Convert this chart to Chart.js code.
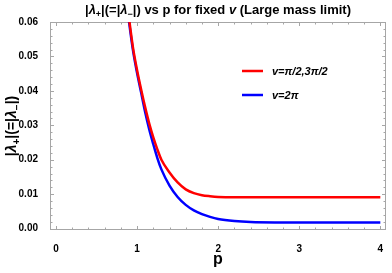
<!DOCTYPE html>
<html>
<head>
<meta charset="utf-8">
<script src="https://cdn.jsdelivr.net/npm/chart.js@4/dist/chart.umd.min.js"></script>
<style>
  html, body { margin: 0; padding: 0; background: #fff; }
</style>
</head>
<body>
<canvas id="chart" width="392" height="273"></canvas>
<script>
// values
const pValues    = [0.88, 0.9, 0.95, 1.0, 1.05, 1.1, 1.15, 1.2, 1.25, 1.3, 1.4, 1.5, 1.6, 1.7, 1.8, 1.9, 2.0, 2.2, 2.4, 2.7, 3.0, 3.5, 4.0];
const redValues  = [0.0650, 0.0612, 0.0525, 0.0460, 0.0404, 0.0352, 0.0305, 0.0265, 0.0230, 0.0200, 0.0163, 0.0134, 0.0114, 0.0103, 0.0097, 0.0094, 0.0092, 0.0091, 0.0091, 0.0091, 0.0091, 0.0091, 0.0091];
const blueValues = [0.0640, 0.0602, 0.0517, 0.0452, 0.0395, 0.0338, 0.0288, 0.0245, 0.0205, 0.0172, 0.0125, 0.0092, 0.0069, 0.0053, 0.0042, 0.0034, 0.0028, 0.0022, 0.0019, 0.0018, 0.0018, 0.0018, 0.0018];
const xTicks = [0, 1, 2, 3, 4];
const yTicks = [0, 0.01, 0.02, 0.03, 0.04, 0.05, 0.06];
const seriesLabels = ['v=π/2,3π/2', 'v=2π'];

const FONT = '"Liberation Sans", Arial, sans-serif';

// draws a run of text pieces, some italic, some lowered as subscripts
function drawRich(ctx, segs, x, y, size) {
  const fontOf = s => (s.i ? 'italic ' : '') + 'bold ' + (s.sub ? Math.round(size * 0.7) : size) + 'px ' + FONT;
  let total = 0;
  segs.forEach(s => { ctx.font = fontOf(s); total += ctx.measureText(s.t).width; });
  let cx = x - total / 2;
  ctx.textAlign = 'left';
  ctx.textBaseline = 'alphabetic';
  segs.forEach(s => {
    ctx.font = fontOf(s);
    ctx.fillText(s.t, cx, y + (s.sub ? size * 0.25 : 0));
    cx += ctx.measureText(s.t).width;
  });
}

const lambdaSegs = [
  {t: '|'}, {t: 'λ', i: true}, {t: '+', sub: true}, {t: '|(=|'},
  {t: 'λ', i: true}, {t: '−', sub: true}, {t: '|)'}
];

const decorations = {
  id: 'decorations',
  beforeDatasetsDraw(chart) {
    const {ctx, chartArea: a, scales: {x, y}} = chart;
    ctx.save();
    ctx.strokeStyle = '#a6a6a6';
    ctx.lineWidth = 1;
    ctx.strokeRect(a.left + 0.5, a.top + 0.5, a.right - a.left - 1, a.bottom - a.top - 1);
    ctx.beginPath();
    for (let i = 0; i <= 20; i++) {
      const px = Math.round(x.getPixelForValue(i * 0.2)) + 0.5;
      const len = i % 5 === 0 ? 4 : 2.5;
      ctx.moveTo(px, a.bottom); ctx.lineTo(px, a.bottom - len);
      ctx.moveTo(px, a.top); ctx.lineTo(px, a.top + len);
    }
    for (let i = 0; i <= 30; i++) {
      const py = Math.round(y.getPixelForValue(i * 0.002)) + 0.5;
      const len = i % 5 === 0 ? 4 : 2.5;
      ctx.moveTo(a.left, py); ctx.lineTo(a.left + len, py);
      ctx.moveTo(a.right, py); ctx.lineTo(a.right - len, py);
    }
    ctx.stroke();
    ctx.restore();
  },
  afterDraw(chart) {
    const {ctx, chartArea: a} = chart;
    ctx.save();
    ctx.fillStyle = '#000';
    // title
    drawRich(ctx, lambdaSegs.concat([
      {t: ' vs p for fixed '}, {t: 'v', i: true}, {t: ' (Large mass limit)'}
    ]), (a.left + a.right) / 2, 14, 13);
    // axis titles
    ctx.font = 'bold 16px ' + FONT;
    ctx.textAlign = 'center';
    ctx.fillText('p', (a.left + a.right) / 2, 264);
    ctx.save();
    ctx.translate(16, (a.top + a.bottom) / 2);
    ctx.rotate(-Math.PI / 2);
    drawRich(ctx, lambdaSegs, 0, 0, 14);
    ctx.restore();
    // legend
    const colors = ['#ff0000', '#0000ff'];
    seriesLabels.forEach((lab, k) => {
      const ly = 71 + k * 24;
      ctx.strokeStyle = colors[k];
      ctx.lineWidth = 2.5;
      ctx.beginPath();
      ctx.moveTo(242, ly); ctx.lineTo(263, ly);
      ctx.stroke();
      ctx.font = 'italic bold 11px ' + FONT;
      ctx.textAlign = 'left';
      ctx.textBaseline = 'middle';
      ctx.fillText(lab, 272, ly + 1);
    });
    ctx.restore();
  }
};

const toPoints = vals => pValues.map((p, i) => ({x: p, y: vals[i]}));

new Chart(document.getElementById('chart'), {
  type: 'line',
  data: {
    datasets: [
      {
        label: seriesLabels[0],
        data: toPoints(redValues),
        borderColor: '#ff0000',
        borderWidth: 2.5,
        pointRadius: 0,
        cubicInterpolationMode: 'monotone',
      },
      {
        label: seriesLabels[1],
        data: toPoints(blueValues),
        borderColor: '#0000ff',
        borderWidth: 2.5,
        pointRadius: 0,
        cubicInterpolationMode: 'monotone',
      },
    ],
  },
  options: {
    responsive: false,
    animation: false,
    layout: { padding: { top: 22, right: 6, left: 0, bottom: 0 } },
    plugins: { legend: { display: false }, tooltip: { enabled: false } },
    scales: {
      x: {
        type: 'linear',
        min: -0.074,
        max: 4.07,
        grid: { display: false },
        border: { display: false },
        afterBuildTicks: s => { s.ticks = xTicks.map(v => ({value: v})); },
        afterFit: s => { s.height = 43; },
        ticks: {
          padding: 5,
          color: '#000',
          font: { family: FONT, size: 10, weight: 'bold' },
          callback: v => String(v),
          maxRotation: 0,
        },
      },
      y: {
        min: -0.0004,
        max: 0.06,
        grid: { display: false },
        border: { display: false },
        afterBuildTicks: s => { s.ticks = yTicks.map(v => ({value: v})); },
        afterFit: s => { s.width = 50; },
        ticks: {
          padding: 4,
          color: '#000',
          font: { family: FONT, size: 10, weight: 'bold' },
          callback: v => v.toFixed(2),
        },
      },
    },
  },
  plugins: [decorations],
});
</script>
</body>
</html>
